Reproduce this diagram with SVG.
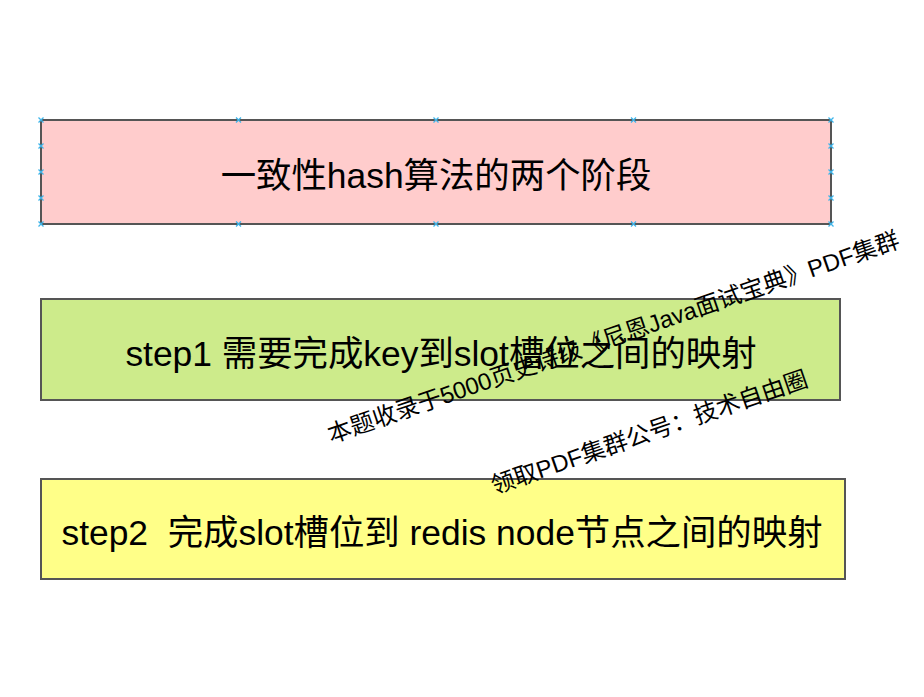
<svg xmlns="http://www.w3.org/2000/svg" width="924" height="697" viewBox="0 0 924 697">
<defs>
<style>
.box{stroke:#555555;stroke-width:2}
.lbl{font-family:"Liberation Sans","Noto Sans CJK SC",sans-serif;font-size:35.4px;fill:#000;text-anchor:middle}
.wm{font-family:"Liberation Sans","Noto Sans CJK SC",sans-serif;font-size:23.8px;fill:#000;text-anchor:middle}
.mk{stroke:#3fb5ea;stroke-width:1.3;fill:none}
</style>
<path id="x" class="mk" d="M-2.5,-2.5L2.5,2.5M-2.5,2.5L2.5,-2.5"/>
</defs>
<rect width="924" height="697" fill="#ffffff"/>
<g id="connectors"></g>
<g id="node-title">
<rect class="box" x="41" y="120" width="790" height="104" fill="#ffcccc"/>
<text class="lbl" x="436" y="188">一致性hash算法的两个阶段</text>
<g id="handles">
<use href="#x" x="41" y="120"/><use href="#x" x="238.5" y="120"/><use href="#x" x="436" y="120"/><use href="#x" x="633.5" y="120"/><use href="#x" x="831" y="120"/>
<use href="#x" x="41" y="224"/><use href="#x" x="238.5" y="224"/><use href="#x" x="436" y="224"/><use href="#x" x="633.5" y="224"/><use href="#x" x="831" y="224"/>
<use href="#x" x="41" y="146"/><use href="#x" x="41" y="172"/><use href="#x" x="41" y="198"/>
<use href="#x" x="831" y="146"/><use href="#x" x="831" y="172"/><use href="#x" x="831" y="198"/>
</g>
</g>
<g id="node-step1">
<rect class="box" x="41" y="299" width="799" height="101" fill="#cdeb8b"/>
<text class="lbl" x="441" y="366">step1 需要完成key到slot槽位之间的映射</text>
</g>
<g id="node-step2">
<rect class="box" x="41" y="479" width="804" height="100" fill="#ffff88"/>
<text class="lbl" x="442" y="545" xml:space="preserve">step2  完成slot槽位到 redis node节点之间的映射</text>
</g>
<g id="watermark">
<text class="wm" transform="translate(616,345) rotate(-19)">本题收录于5000页史诗级《尼恩Java面试宝典》PDF集群</text>
<text class="wm" transform="translate(652,440) rotate(-19)">领取PDF集群公号：技术自由圈</text>
</g>
</svg>
